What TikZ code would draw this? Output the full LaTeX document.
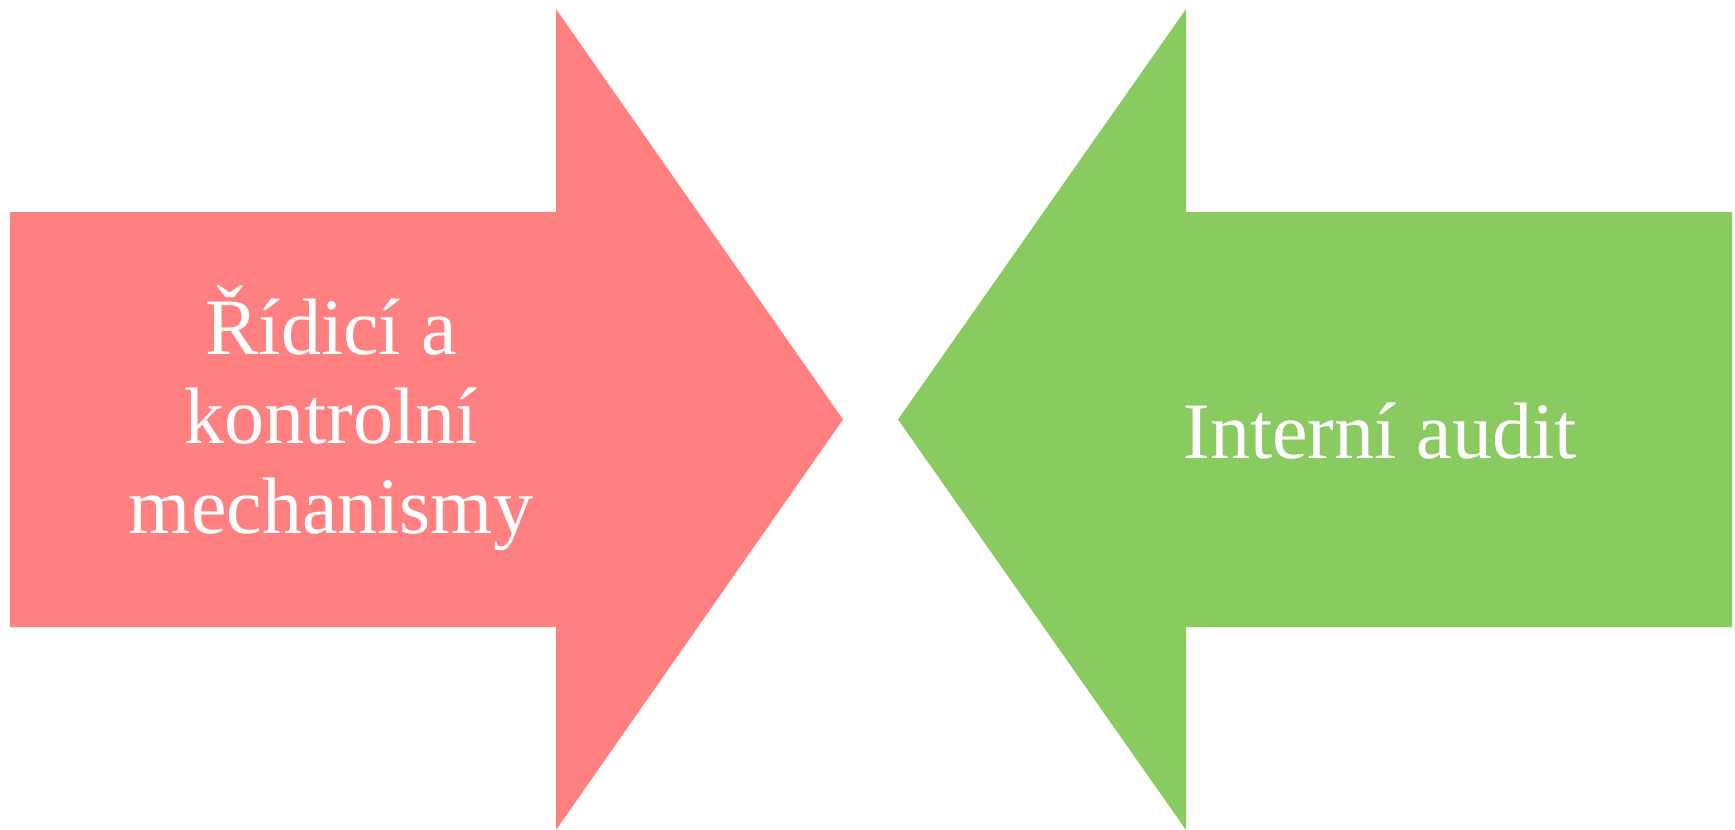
\documentclass[tikz,border=0pt]{standalone}
\usepackage{fontspec}
\setmainfont{Liberation Serif}
\definecolor{arrred}{HTML}{FF8080}
\definecolor{arrgreen}{HTML}{89CB60}
\begin{document}
\begin{tikzpicture}[x=1pt,y=-1pt,
  arrowshape/.style={draw=none},
  label/.style={text=white,inner sep=0pt,font=\fontsize{80}{89.5}\selectfont,align=center}]
\useasboundingbox (0,0) rectangle (1735,830);
\fill[arrred,arrowshape] (10,212) -- (556,212) -- (556,9) -- (843,419.5) -- (556,830) -- (556,627) -- (10,627) -- cycle;
\fill[arrgreen,arrowshape] (1732,212) -- (1186,212) -- (1186,9) -- (898,419.5) -- (1186,830) -- (1186,627) -- (1732,627) -- cycle;
\node[label] (red) at (331,418) {Řídicí a\\kontrolní\\mechanismy};
\node[label,anchor=base] (green) at (1380,458) {Interní audit};
\end{tikzpicture}
\end{document}
